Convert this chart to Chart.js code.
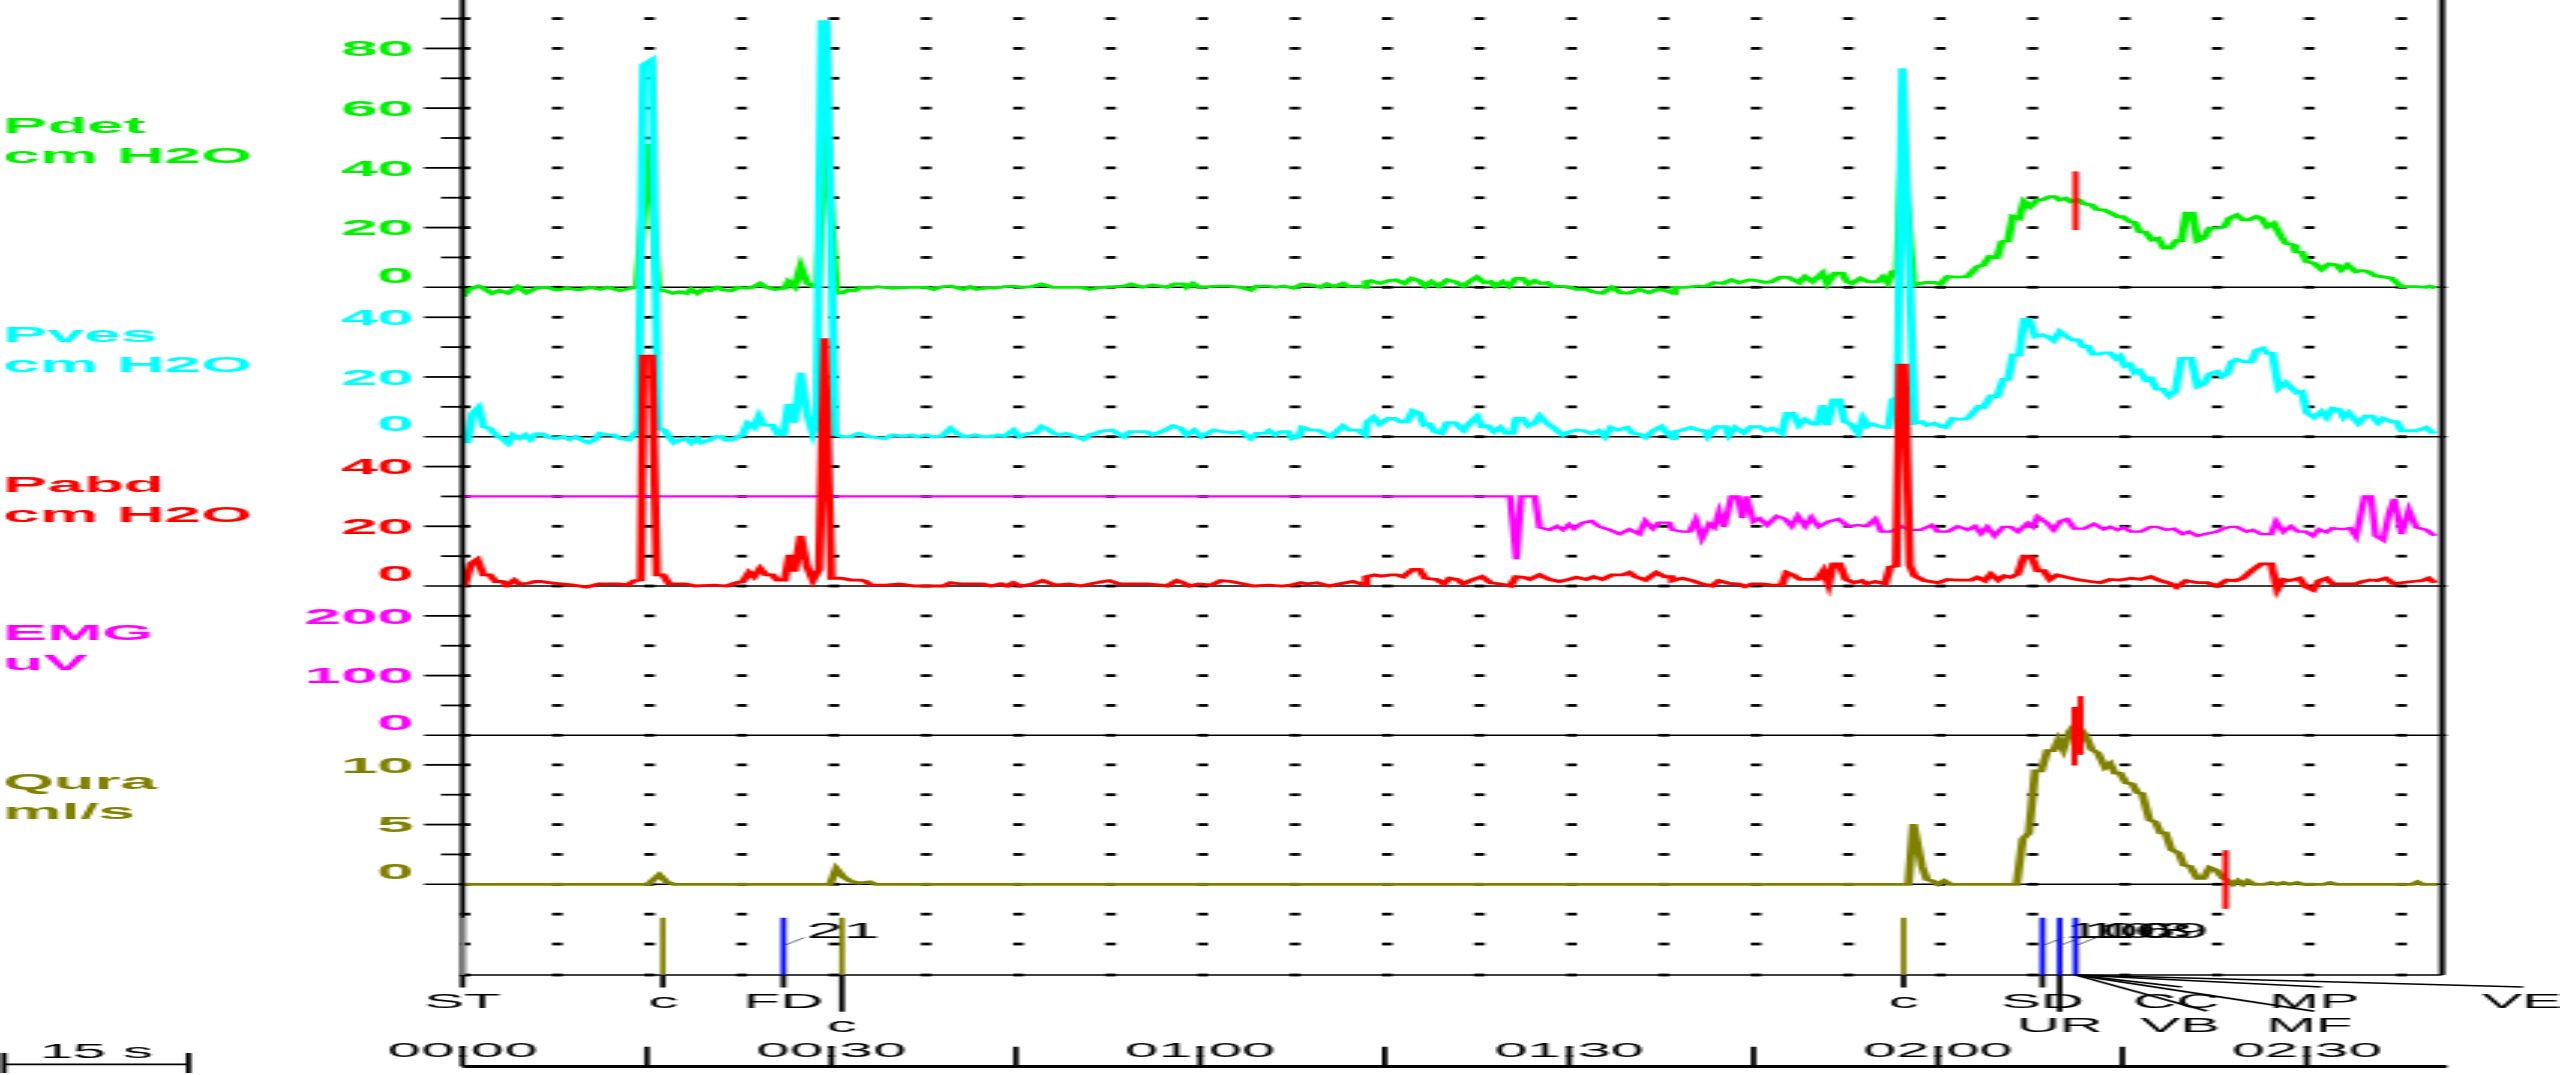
<!DOCTYPE html>
<html>
<head>
<meta charset="utf-8">
<title>Urodynamic trace</title>
<script src="https://cdn.jsdelivr.net/npm/chart.js@4.4.1/dist/chart.umd.min.js"></script>
<style>
  html, body { margin: 0; padding: 0; background: #fff; overflow: hidden; }
  /* the trace is drawn on a narrow canvas and stretched sideways, like the recorder output */
  #stage { position: absolute; left: 0; top: 0; width: 854px; height: 1075px; transform: scaleX(2.997658); transform-origin: 0 0; }
  #trace { display: block; }
</style>
</head>
<body>
<div id="stage"><canvas id="trace" width="854" height="1075"></canvas></div>
<script>
// ---- data (seconds, value) ----
const channelNames = ['Pdet', 'Pves', 'Pabd', 'EMG', 'Qura'];
const channelUnits = ['cm H2O', 'cm H2O', 'cm H2O', 'uV', 'ml/s'];
const pdetTicks = [0, 20, 40, 60, 80];
const pvesTicks = [0, 20, 40];
const pabdTicks = [0, 20, 40];
const emgTicks = [0, 100, 200];
const quraTicks = [0, 5, 10];
const timeTicks = [0, 30, 60, 90, 120, 150];
const timeLabels = ['00:00', '00:30', '01:00', '01:30', '02:00', '02:30'];

const pdetSamples = [[0,-3.1],[0.5,-0.7],[1.3,0.4],[1.7,-0.3],[2.4,-2.0],[3.0,-1.1],[3.7,-2.0],[4.5,0.2],[5.2,-1.8],[6.0,-0.3],[6.8,0],[7.7,-0.9],[8.5,-0.3],[9.5,-0.9],[10.3,0],[11.2,-0.7],[11.8,0],[12.8,-1.1],[13.7,-0.3],[14.2,0],[15.1,48],[15.9,-0.9],[16.4,-1.1],[17.1,-2.0],[17.7,-1.5],[18.2,-2.0],[18.6,-0.7],[19.1,-2.0],[19.6,-0.7],[20.1,-1.1],[20.7,0],[21.2,-0.9],[21.9,-1.1],[22.4,0],[23.1,-0.3],[23.6,0],[24.2,1.3],[24.7,0],[25.4,-0.7],[26.2,-0.3],[26.5,1.9],[27.0,0.2],[27.5,6.9],[28.0,1.6],[28.5,0.2],[28.9,0.2],[29.4,57],[30.4,-2.0],[30.9,-1.8],[31.4,-0.9],[31.9,-1.1],[32.4,0],[33.0,-0.3],[33.7,0.2],[34.3,0],[35.0,-0.3],[36.3,0],[37.7,0],[38.3,-0.7],[39.0,0.2],[39.7,0.4],[40.7,-0.7],[41.3,0.2],[41.8,-0.7],[42.5,-0.3],[43.3,-0.3],[44.1,0.2],[44.8,0.4],[45.5,0],[46.3,0.2],[47.1,1.1],[48.0,0],[50.3,0],[51.0,-0.7],[52.0,0],[53.0,0.2],[53.8,0.4],[54.4,1.1],[55.3,0],[56.1,0.8],[57.3,0],[57.9,1.1],[58.6,1.1],[58.9,0],[59.4,1.3],[59.9,0],[61.3,0.4],[62.3,0.4],[63.3,0],[64.1,-0.9],[64.6,0.4],[65.5,0.4],[66.1,0],[66.8,0.4],[67.6,-0.3],[68.3,1.1],[69.1,0.8],[69.8,0],[70.3,1.1],[70.9,0.2],[71.6,1.3],[72.1,0.2],[72.8,0.4],[73.4,0],[73.5,1.9],[73.9,2.2],[74.6,1.3],[75.3,2.2],[75.9,2.5],[76.6,1.3],[77.2,3.0],[77.8,2.2],[78.3,0.4],[78.8,1.9],[79.4,0.4],[80.1,2.5],[80.7,1.9],[81.4,0.4],[81.9,1.9],[82.5,3.4],[83.1,1.6],[83.6,1.9],[84.0,0.4],[84.6,1.9],[85.1,0.4],[85.7,3.0],[86.2,3.0],[86.7,1.1],[87.2,2.2],[87.7,1.3],[88.2,1.6],[88.7,0.2],[89.4,0.4],[90.1,0],[90.6,-0.7],[91.4,-0.7],[91.9,-1.5],[92.7,-2.0],[93.5,0],[94.2,-1.8],[94.9,-2.0],[95.7,-0.7],[96.5,-1.8],[97.2,-0.7],[97.9,-1.1],[98.5,-2.0],[98.6,0],[99.5,0],[100.4,0.4],[101.2,0.4],[101.8,1.6],[102.5,1.3],[103.2,2.5],[103.8,1.6],[104.7,2.5],[105.3,2.2],[106.0,1.6],[106.5,1.9],[107.2,3.4],[107.8,3.4],[108.7,1.6],[109.2,3.6],[109.8,1.9],[110.6,4.7],[111.0,1.3],[111.6,4.7],[112.2,4.7],[112.6,1.9],[113.0,1.3],[113.7,3.0],[114.3,1.9],[115.1,1.9],[115.5,3.4],[115.9,1.6],[116.3,5.2],[116.7,5.6],[117.1,45],[118.0,0.8],[119.0,1.6],[119.7,1.6],[120.2,1.1],[120.8,3.6],[121.6,3.4],[122.4,3.6],[123.2,6.9],[123.7,7.5],[124.2,10.3],[124.8,10.0],[125.2,15.3],[125.7,15.6],[126.1,23.7],[126.6,23.1],[127.0,28.7],[127.5,27.0],[128.1,29.3],[128.5,29.3],[129.1,30.4],[129.5,30.4],[129.9,29.3],[130.4,29.8],[130.8,28.7],[131.4,29.3],[131.9,27.9],[132.5,27.6],[132.9,26.1],[133.5,25.9],[134.1,24.8],[134.6,23.7],[135.0,23.7],[135.6,22.0],[136.0,21.7],[136.4,18.6],[136.9,18.4],[137.4,15.9],[137.9,16.4],[138.4,13.1],[138.9,13.1],[139.4,15.6],[139.8,15.6],[140.2,24.8],[140.7,24.8],[141.1,15.6],[141.6,16.4],[142.1,19.8],[142.7,19.8],[143.3,20.3],[143.7,23.1],[144.3,24.2],[144.8,22.6],[145.3,22.6],[145.9,23.7],[146.3,23.1],[146.8,20.3],[147.3,21.4],[147.9,17.0],[148.3,14.7],[148.9,14.2],[149.1,11.9],[149.6,11.7],[150.0,8.6],[150.6,8.0],[151.2,6.0],[151.8,7.8],[152.4,7.5],[152.8,5.8],[153.3,7.5],[154.0,5.2],[154.5,5.6],[155.0,5.2],[155.6,3.8],[156.1,3.6],[156.9,3.0],[157.7,0.2],[158.9,0.2],[159.7,0],[160.0,0.4],[160.5,-0.3]];

const pvesSamples = [[0,-1.7],[0.4,-1.7],[0.8,7.8],[1.3,9.8],[1.7,3.4],[2.2,2.8],[2.7,0.6],[3.2,-0.6],[3.7,-2.2],[4.1,0.6],[4.6,-0.6],[5.1,0.6],[5.5,-0.9],[6.0,0.9],[6.5,0.9],[7.0,-0.2],[7.5,-0.6],[8.2,0],[8.7,-0.9],[9.2,0],[9.7,-1.1],[10.2,-2.0],[10.7,-1.1],[11.2,1.1],[11.8,0.6],[12.3,0.6],[12.8,-0.6],[13.5,-1.1],[14.0,1.1],[14.3,2.2],[14.7,124.5],[15.4,126.2],[15.9,2.8],[16.4,2.2],[16.9,-0.6],[17.2,-2.0],[17.7,-1.1],[18.2,-0.6],[18.6,-2.0],[19.1,-0.6],[19.4,-2.0],[20.1,-1.1],[20.6,0],[21.1,0],[21.4,-1.1],[21.9,-1.1],[22.4,0],[22.7,0.2],[23.2,4.5],[23.7,3.1],[24.1,6.9],[24.5,3.9],[25.2,3.9],[25.7,0.6],[26.1,0.6],[26.5,10.9],[27.0,4.7],[27.5,21.4],[28.0,8.0],[28.5,1.1],[28.8,4.5],[29.2,139],[29.6,139],[30.3,0.6],[31.0,0],[31.5,0],[32.2,1.1],[32.9,0.2],[33.5,-0.2],[34.3,-0.6],[35.0,0.6],[35.8,0.2],[36.5,0.6],[37.0,0],[37.7,0.6],[38.2,0],[39.0,0.2],[39.7,2.8],[40.2,1.1],[40.8,0],[41.7,0.6],[42.3,0],[43.0,0],[43.5,0.6],[44.1,0.2],[44.8,2.2],[45.3,0],[46.0,1.1],[46.6,1.3],[47.1,3.4],[47.6,2.5],[48.1,1.1],[48.6,0.6],[49.1,1.1],[49.8,0.2],[50.5,-0.9],[51.0,0.6],[51.5,1.1],[52.0,1.9],[52.8,2.2],[53.3,1.1],[53.8,0],[54.3,1.7],[54.9,1.7],[55.6,1.7],[56.1,0.6],[56.6,1.3],[57.3,2.5],[57.8,3.6],[58.4,2.8],[58.9,0.6],[59.5,2.2],[60.1,0],[61.1,2.2],[61.8,1.7],[62.6,1.3],[63.3,1.7],[64.1,-0.6],[64.6,1.1],[65.3,1.1],[65.6,2.0],[66.1,0.6],[66.6,1.7],[67.1,1.7],[67.5,-0.6],[68.0,0],[68.3,3.1],[69.0,2.2],[69.6,2.2],[70.6,0],[71.6,3.6],[72.1,2.2],[72.8,2.2],[73.4,0.6],[73.6,5.0],[74.1,6.5],[74.6,4.2],[75.3,6.1],[75.8,6.1],[76.3,5.0],[76.8,5.0],[77.3,8.7],[77.8,8.0],[78.2,3.9],[78.6,4.2],[79.1,1.7],[79.6,1.1],[80.1,4.7],[80.7,4.7],[81.4,2.2],[81.9,4.5],[82.5,6.7],[82.9,3.4],[83.4,3.6],[83.9,1.7],[84.4,3.1],[84.9,1.1],[85.4,1.1],[85.7,6.1],[86.2,6.1],[86.7,3.6],[87.2,4.5],[87.6,6.9],[88.2,4.5],[88.8,2.8],[89.5,0.6],[90.1,1.7],[90.6,2.2],[91.2,2.0],[91.8,1.1],[92.4,2.0],[92.9,0],[93.4,3.1],[94.0,2.2],[94.7,3.1],[95.2,1.1],[95.7,0.9],[96.2,-0.2],[96.9,2.2],[97.5,3.4],[98.0,1.1],[98.5,-0.6],[98.6,1.7],[99.2,2.2],[99.9,3.1],[100.5,2.2],[101.0,2.0],[101.3,0],[102.0,3.4],[102.7,3.4],[103.0,0.6],[103.5,3.1],[104.2,1.3],[104.8,3.4],[105.5,3.4],[106.0,2.0],[106.5,2.8],[107.3,1.1],[107.7,7.8],[108.2,7.8],[108.7,3.9],[109.2,5.8],[109.8,4.2],[110.2,4.2],[110.6,10.6],[111.0,3.9],[111.5,12.3],[112.0,12.3],[112.4,5.0],[112.9,4.2],[113.5,1.3],[113.9,6.1],[114.3,3.6],[114.7,4.2],[115.1,3.6],[115.6,3.1],[116.0,3.1],[116.3,12.3],[116.7,13.2],[117.1,123.4],[118.1,4.5],[118.7,5.0],[119.1,3.9],[119.7,4.5],[120.2,3.4],[120.6,3.1],[121.2,6.1],[121.8,5.8],[122.4,6.1],[122.8,7.8],[123.3,10.1],[123.7,9.8],[124.3,13.6],[124.8,13.4],[125.3,19.2],[125.7,19.2],[126.1,27.4],[126.6,27.4],[127.0,39.3],[127.4,39.3],[127.9,33.5],[128.5,34.1],[128.9,33.5],[129.4,32.2],[129.9,35.2],[130.4,33.7],[130.9,32.4],[131.4,32.4],[131.8,30.2],[132.2,30.2],[132.6,27.7],[133.1,27.7],[133.5,28.1],[134.0,28.1],[134.5,26.2],[134.8,27.0],[135.2,23.7],[135.6,24.3],[136.0,21.4],[136.4,22.1],[136.9,19.0],[137.3,19.5],[137.8,15.9],[138.3,15.9],[138.8,13.6],[139.3,15.1],[139.8,26.2],[140.6,26.2],[141.1,16.8],[141.6,17.6],[142.1,21.0],[142.7,21.8],[143.1,20.1],[143.5,21.0],[143.9,25.1],[144.3,25.9],[144.9,25.1],[145.5,25.1],[145.9,29.0],[146.4,29.6],[146.8,27.9],[147.2,27.9],[147.7,16.2],[148.3,18.1],[148.7,16.5],[149.2,14.7],[149.6,15.1],[150.0,8.0],[150.6,6.5],[151.2,8.4],[151.6,6.5],[152.1,9.5],[152.6,9.2],[153.0,6.5],[153.4,8.0],[154.2,4.5],[154.8,6.9],[155.3,6.9],[155.8,4.7],[156.2,6.1],[156.9,5.0],[157.3,5.0],[157.7,2.0],[158.9,2.0],[159.7,3.1],[160.3,1.1]];

const pabdSamples = [[0,0],[0.2,0.7],[0.7,7.6],[1.2,8.9],[1.7,3.7],[2.2,3.7],[2.7,1.5],[3.2,1.5],[3.6,0.3],[4.2,2.0],[4.6,0.7],[5.4,0.9],[5.9,1.5],[6.4,1.5],[7.0,1.1],[8.0,0.7],[9.0,0.3],[10.1,-0.4],[11.1,0.7],[12.7,0.7],[13.4,0.3],[14.0,1.8],[14.5,2.0],[14.7,77],[15.4,77],[15.8,3.7],[16.3,3.7],[16.8,0.7],[18.1,0.7],[18.9,0],[20.5,0.3],[21.5,0],[22.3,1.1],[22.8,1.5],[23.3,4.5],[23.7,3.1],[24.2,5.9],[24.7,3.7],[25.2,3.7],[25.6,2.0],[26.2,2.0],[26.6,10.4],[27.0,4.8],[27.5,16.8],[28.0,6.7],[28.5,2.0],[29.0,5.6],[29.45,83],[30.0,2.6],[30.8,2.6],[31.6,2.0],[32.4,2.0],[32.8,1.5],[33.2,0.3],[34.5,0.3],[35.5,0.7],[36.8,0],[39.1,0],[39.7,1.1],[40.4,0.7],[42.3,0.7],[43.0,0],[43.8,0.7],[44.3,0],[44.8,1.1],[45.4,0],[46.4,0.7],[47.2,1.8],[48.2,0.3],[49.3,0.7],[50.3,0],[51.1,0.7],[52.1,1.5],[52.6,1.8],[53.4,0.7],[54.5,0.7],[55.7,0.7],[56.8,0.3],[57.3,0],[58.1,1.8],[58.6,1.1],[59.1,0],[59.9,0.7],[60.9,0.3],[61.7,1.8],[62.5,1.5],[63.5,0.7],[64.3,0],[65.6,0.3],[66.6,0],[67.4,0.3],[68.2,1.1],[68.7,0.7],[69.5,1.1],[70.5,0],[71.3,0.7],[72.4,1.5],[73.4,0.3],[73.5,3.1],[74.2,3.7],[74.7,3.3],[75.5,3.7],[76.0,3.7],[76.5,3.1],[77.3,5.6],[77.8,5.6],[78.3,2.6],[79.2,2.2],[79.8,0.7],[80.3,2.6],[80.9,2.2],[81.4,0.7],[82.1,2.0],[82.9,3.1],[83.6,1.1],[84.4,0.7],[85.2,0],[85.7,3.1],[86.3,2.9],[86.8,2.2],[87.6,3.7],[88.4,2.2],[89.2,1.5],[90.0,2.2],[90.6,2.9],[91.4,2.2],[92.0,3.1],[92.7,2.2],[93.5,3.7],[94.4,3.7],[94.9,4.5],[95.4,3.1],[96.2,2.0],[97.1,4.5],[97.8,3.1],[98.3,3.1],[98.4,1.8],[99.2,2.6],[100.0,1.8],[100.8,0.7],[101.6,0],[102.2,1.8],[103.0,0.9],[103.8,0.7],[104.3,-0.2],[104.9,0.7],[105.7,0.7],[106.5,0.3],[107.3,0.3],[107.7,4.5],[108.2,3.7],[108.8,2.2],[109.5,2.2],[110.2,2.2],[110.7,5.1],[111.1,0.7],[111.5,7.4],[112.0,7.4],[112.5,2.2],[113.2,1.1],[113.8,1.8],[114.2,0.7],[114.9,1.5],[115.7,0.7],[116.1,6.3],[116.6,6.7],[116.9,74],[117.3,74],[117.7,7.0],[118.1,3.4],[118.9,1.8],[120.0,1.1],[120.8,2.2],[121.6,2.0],[122.7,2.0],[123.2,2.9],[123.8,1.8],[124.3,4.0],[124.9,2.0],[125.4,3.4],[125.9,2.9],[126.5,4.0],[127.0,10.0],[127.6,9.8],[128.1,5.1],[128.6,5.1],[129.1,2.2],[129.7,3.7],[130.5,2.9],[131.3,2.2],[132.4,1.5],[133.2,1.1],[134.0,2.2],[134.8,2.0],[135.7,2.6],[136.5,2.2],[137.3,3.1],[138.1,1.8],[138.9,0.9],[139.4,-0.4],[140.2,1.8],[141.1,1.1],[141.9,1.1],[142.7,0],[143.5,2.0],[144.2,1.8],[144.8,2.6],[145.6,5.4],[146.3,7.4],[147.1,7.4],[147.6,-1.1],[148.1,2.2],[148.6,1.8],[149.4,2.6],[149.9,-0.2],[150.5,-1.3],[151.0,1.8],[151.6,2.6],[152.1,0.7],[153.2,0.7],[154.0,0.7],[154.5,1.5],[155.2,2.0],[155.7,1.8],[156.4,2.6],[157.1,0.7],[157.7,1.1],[158.6,1.5],[159.4,1.8],[159.9,2.6],[160.4,1.1]];

const emgSamples = [[0,400],[85.2,400],[85.7,295],[86.1,400],[87.2,400],[87.6,348],[88.4,344],[89.0,350],[89.5,344],[90.0,353],[90.4,346],[91.1,356],[91.8,359],[92.5,349],[93.3,344],[94.1,337],[94.9,345],[95.7,337],[96.2,359],[96.8,346],[97.3,356],[98.1,356],[98.4,344],[99.2,341],[99.8,341],[100.3,361],[100.8,330],[101.4,354],[101.8,348],[102.2,374],[102.6,349],[103.2,400],[103.7,400],[104.1,364],[104.4,400],[105.0,358],[105.5,363],[106.1,352],[106.9,367],[107.5,363],[108.1,350],[108.6,367],[109.2,350],[109.7,365],[110.3,349],[111.1,358],[111.9,362],[112.7,350],[113.5,352],[114.2,350],[114.9,362],[115.4,341],[116.2,341],[117.0,350],[117.7,344],[118.6,344],[119.5,352],[120.0,341],[120.8,341],[121.6,350],[122.4,344],[123.0,350],[123.5,338],[124.0,349],[124.6,334],[125.3,349],[125.9,349],[126.5,341],[127.3,355],[127.7,349],[128.1,366],[128.9,355],[129.4,344],[130.0,359],[130.5,362],[131.1,346],[131.9,346],[132.7,354],[133.5,345],[134.0,349],[134.6,344],[135.1,348],[135.7,341],[136.5,341],[137.3,349],[137.8,349],[138.6,344],[139.2,346],[139.9,337],[140.4,341],[141.1,334],[141.9,338],[142.7,341],[143.2,346],[143.8,349],[144.3,349],[145.1,341],[145.6,344],[146.3,337],[147.1,337],[147.5,358],[148.1,341],[148.7,350],[149.3,341],[149.9,341],[150.5,334],[151.0,345],[151.6,340],[152.1,347],[152.9,345],[153.5,347],[154.0,333],[154.7,400],[155.2,400],[155.6,334],[156.2,327],[156.7,372],[157.1,396],[157.7,337],[158.3,377],[158.9,348],[159.7,344],[160.4,334]];

const quraSamples = [[0,0],[15.1,0],[16.0,0.8],[16.6,0.2],[17.2,0],[29.9,0],[30.4,1.3],[31.0,0.6],[31.5,0.3],[32.2,0.1],[33.1,0.2],[33.6,0],[117.6,0],[118.0,5.05],[118.7,1.5],[119.1,0.4],[119.5,0.3],[120.0,0],[120.5,0.3],[121.0,0],[126.4,0],[126.9,3.8],[127.4,4.3],[127.9,9.5],[128.4,9.5],[128.9,11.2],[129.4,11.2],[129.8,12.1],[130.2,11.3],[130.7,12.8],[131.1,13.3],[131.5,13.1],[132.0,12.5],[132.5,11.3],[133.0,11.0],[133.6,9.8],[134.0,10.1],[134.4,9.3],[134.8,9.3],[135.3,8.5],[135.8,8.4],[136.2,7.7],[136.6,7.6],[137.2,5.4],[137.7,5.2],[138.1,4.3],[138.5,4.3],[139.0,2.9],[139.6,2.6],[140.0,1.6],[140.5,1.5],[141.1,0.5],[141.6,0.5],[142.1,1.4],[142.6,1.2],[143.2,0.5],[143.5,0.4],[144.0,0],[144.4,0.3],[144.8,0],[145.2,0.3],[145.7,0],[146.6,0],[147.1,0.15],[147.6,0],[148.1,0.15],[148.6,0],[149.2,0.15],[149.7,0],[151.4,0],[151.9,0.15],[152.4,0],[158.6,0],[159.0,0.2],[159.4,0],[160.6,0]];

const eventTimes = [0, 16.3, 26.1, 30.85, 117.2, 128.5, 129.9, 131.2];
const eventCodes = ['ST', 'c', 'FD', 'c', 'c', 'SD', 'UR', ''];
const eventVolumes = ['', '', '21', '', '', '106', '103', '109'];
const voidingCodes = ['CC', 'VB', 'MP', 'MF', 'VE'];
const cursorTimes = [131.2, 131.1, 131.6, 143.4];
const cursorChannels = ['pdet', 'qura', 'qura', 'qura'];
const cursorValues = [29, 12.4, 13.3, 0.4];

// ---- layout & style ----
const STRETCH = 2560 / 854;
const fx = (px) => px / STRETCH;           // reference px across -> canvas px
const GRID_PX = 29.86;                      // one grid step, vertical
const AREA_BOTTOM = 975;
const GRID_SECONDS = 7.5;
const TICK_SECONDS = 15;
const SPAN_SECONDS = 161;
const FONT = '"Liberation Sans", Arial, sans-serif';

const panels = [
  { id: 'pdet', color: '#00f000', zero: 287.3, step: 10, top: 90, ticks: pdetTicks, titleY: 133, width: 2.8, order: 5, zeroShift: 12.3 },
  { id: 'pves', color: '#00ffff', zero: 436.7, step: 10, top: 40, ticks: pvesTicks, titleY: 341.7, width: 2.8, order: 4, zeroShift: 13.2 },
  { id: 'pabd', color: '#ff0000', zero: 586.0, step: 10, top: 40, ticks: pabdTicks, titleY: 491.7, width: 2.8, order: 2, zeroShift: 13.4 },
  { id: 'emg', color: '#ff00ff', zero: 735.3, step: 50, top: 200, ticks: emgTicks, titleY: 640, width: 2.3, order: 3, zeroShift: 13.5 },
  { id: 'qura', color: '#808000', zero: 884.3, step: 2.5, top: 10, ticks: quraTicks, titleY: 789.3, width: 2.8, order: 1, zeroShift: 13 },
];
const samplesById = { pdet: pdetSamples, pves: pvesSamples, pabd: pabdSamples, emg: emgSamples, qura: quraSamples };

// fan of labels hanging off the last voiding bar: seconds offset of text and of leader end, row
const fanLayout = [
  { text: 8.2, lead: 8.6, row: 1 },
  { text: 8.5, lead: 10.7, row: 2 },
  { text: 19.4, lead: 20.0, row: 1 },
  { text: 19.0, lead: 19.4, row: 2 },
  { text: 36.3, lead: 36.4, row: 1 },
];
const rowTick = { 1: 987.5, 2: 1011.7 };
const rowText = { 1: 1008, 2: 1032 };

function eventColor(code) {
  if (code === 'ST') return '#808080';
  if (code === 'c') return '#808000';
  return '#0000ff';
}

function line(ctx, x1, y1, x2, y2) {
  ctx.beginPath();
  ctx.moveTo(x1, y1);
  ctx.lineTo(x2, y2);
  ctx.stroke();
}

const framePlugin = {
  id: 'uroFrame',
  beforeDatasetsDraw(chart) {
    const { ctx, chartArea: area, scales } = chart;
    const xs = scales.x;
    ctx.save();

    // dotted grid
    const rows = [];
    panels.forEach((p) => {
      for (let v = 0; v <= p.top + 1e-6; v += p.step) rows.push(scales[p.id].getPixelForValue(v));
    });
    rows.push(scales.qura.getPixelForValue(-2.5), scales.qura.getPixelForValue(-5), area.bottom);
    ctx.fillStyle = '#000';
    for (let t = 0; t < SPAN_SECONDS; t += GRID_SECONDS) {
      const x = xs.getPixelForValue(t);
      rows.forEach((y) => ctx.fillRect(x - 0.9, y - 1.4, 3.5, 2.8));
    }

    // zero lines, tick marks, tick labels, channel titles
    ctx.strokeStyle = '#000';
    panels.forEach((p, i) => {
      const s = scales[p.id];
      const y0 = s.getPixelForValue(0);
      ctx.lineWidth = 1.6;
      line(ctx, fx(424), y0, fx(2447), y0);
      ctx.lineWidth = 1.8;
      for (let v = p.step; v <= p.top + 1e-6; v += p.step) {
        const y = s.getPixelForValue(v);
        const major = p.ticks.includes(v);
        line(ctx, major ? fx(424) : fx(441), y, area.left, y);
      }
      ctx.fillStyle = p.color;
      ctx.font = 'bold 22px ' + FONT;
      ctx.textAlign = 'right';
      p.ticks.forEach((v) => {
        const y = s.getPixelForValue(v) - (v === 0 ? p.zeroShift : 0);
        ctx.fillText(String(v), fx(414), y + 7.9);
      });
      ctx.textAlign = 'left';
      ctx.fillText(channelNames[i], fx(3), p.titleY);
      ctx.fillText(channelUnits[i], fx(3), p.titleY + 30);
    });
    ctx.restore();
  },

  afterDatasetsDraw(chart) {
    const { ctx, chartArea: area, scales } = chart;
    const xs = scales.x;
    const X = (t) => xs.getPixelForValue(t);
    ctx.save();
    ctx.strokeStyle = '#000';

    // frame
    ctx.lineWidth = 1.8;
    line(ctx, area.left, area.top, area.left, area.bottom);
    ctx.lineWidth = 2;
    line(ctx, area.right, area.top, area.right, area.bottom);
    ctx.lineWidth = 1.6;
    line(ctx, area.left, area.bottom, area.right, area.bottom);

    // event bars, ticks and codes
    const barTop = scales.qura.getPixelForValue(-2.8);
    ctx.font = '20px ' + FONT;
    ctx.textAlign = 'center';
    eventTimes.forEach((t, i) => {
      const x = X(t);
      const code = eventCodes[i];
      ctx.strokeStyle = eventColor(code);
      ctx.lineWidth = 1.8;
      line(ctx, x, barTop, x, area.bottom);
      if (eventVolumes[i]) {
        ctx.strokeStyle = '#444';
        ctx.lineWidth = 0.8;
        line(ctx, x + 0.6, 945, x + fx(21), 937.5);
        ctx.fillStyle = '#000';
        ctx.font = '22px ' + FONT;
        ctx.textAlign = 'left';
        ctx.fillText(eventVolumes[i], x + fx(23), 938.3);
        ctx.font = '20px ' + FONT;
        ctx.textAlign = 'center';
      }
      ctx.strokeStyle = '#000';
      ctx.fillStyle = '#000';
      if (code) {
        const row = i > 0 && t - eventTimes[i - 1] < 6 ? 2 : 1;
        ctx.lineWidth = 1.8;
        line(ctx, x, area.bottom, x, rowTick[row]);
        ctx.fillText(code, x, rowText[row]);
      } else {
        ctx.lineWidth = 1.5;
        voidingCodes.forEach((vc, k) => {
          const f = fanLayout[k];
          line(ctx, x, area.bottom, X(t + f.lead), rowTick[f.row] - 0.5);
          ctx.fillText(vc, X(t + f.text), rowText[f.row]);
        });
      }
    });

    // red cursors on the traces
    ctx.strokeStyle = '#ff0000';
    ctx.lineWidth = 2;
    cursorTimes.forEach((t, i) => {
      const y = scales[cursorChannels[i]].getPixelForValue(cursorValues[i]);
      line(ctx, X(t), y - 29.3, X(t), y + 29.3);
    });

    // time axis
    ctx.strokeStyle = '#000';
    ctx.fillStyle = '#000';
    ctx.font = '20px ' + FONT;
    ctx.textAlign = 'center';
    timeTicks.forEach((t, i) => ctx.fillText(timeLabels[i], X(t), 1056.7));
    ctx.lineWidth = 3;
    line(ctx, X(0), 1066.5, fx(2447), 1066.5);
    ctx.lineWidth = 1.8;
    for (let t = 0; t <= 150; t += TICK_SECONDS) line(ctx, X(t), 1046.7, X(t), 1066.5);

    // 15 s scale bar
    const bar = X(15) - X(0);
    const bx = fx(4);
    ctx.fillText('15 s', bx + bar / 2, 1057.7);
    ctx.lineWidth = 1.8;
    line(ctx, bx, 1064.3, bx + bar, 1064.3);
    line(ctx, bx, 1053, bx, 1073);
    line(ctx, bx + bar, 1053, bx + bar, 1073);
    ctx.restore();
  },
};

const scales = {
  x: { type: 'linear', display: false, min: 0, max: SPAN_SECONDS },
};
panels.forEach((p) => {
  scales[p.id] = {
    type: 'linear',
    display: false,
    min: -((AREA_BOTTOM - p.zero) / GRID_PX) * p.step,
    max: (p.zero / GRID_PX) * p.step,
  };
});

const datasets = panels.map((p, i) => ({
  label: channelNames[i],
  data: samplesById[p.id].map(([x, y]) => ({ x, y })),
  yAxisID: p.id,
  xAxisID: 'x',
  borderColor: p.color,
  borderWidth: p.width,
  pointRadius: 0,
  tension: 0,
  fill: false,
  order: p.order,
}));

new Chart(document.getElementById('trace'), {
  type: 'line',
  data: { datasets },
  options: {
    responsive: false,
    animation: false,
    devicePixelRatio: 1,
    events: [],
    layout: { padding: { left: fx(462.5), right: 854 - fx(2442), top: 0, bottom: 1075 - AREA_BOTTOM } },
    scales,
    plugins: { legend: { display: false }, tooltip: { enabled: false } },
  },
  plugins: [framePlugin],
});
</script>
</body>
</html>
